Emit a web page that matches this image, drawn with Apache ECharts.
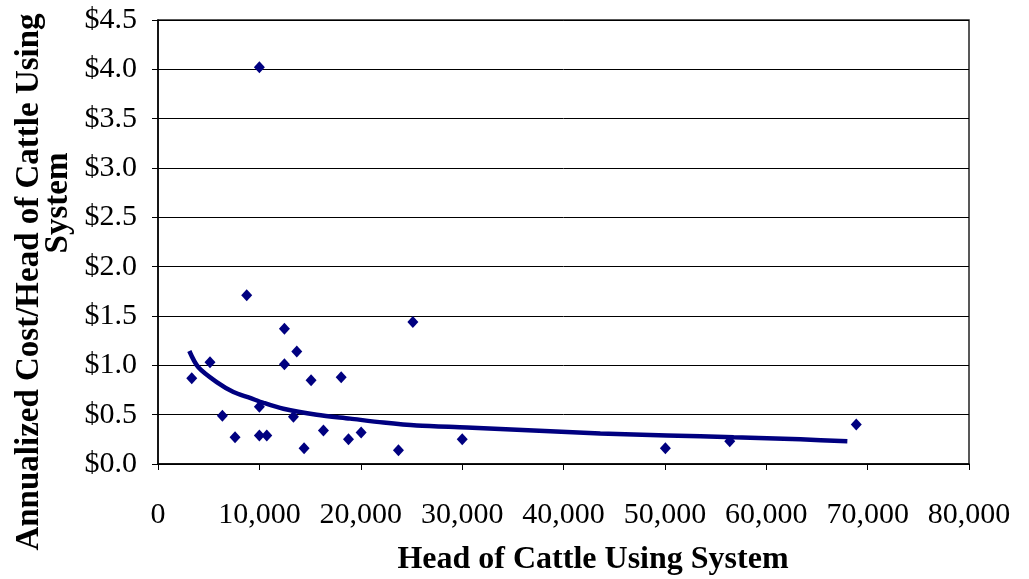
<!DOCTYPE html>
<html>
<head>
<meta charset="utf-8">
<script src="https://cdn.jsdelivr.net/npm/echarts@6/dist/echarts.min.js"></script>
<style>
  html, body { margin: 0; padding: 0; background: #fff; }
  #chart { width: 1029px; height: 579px; }
</style>
</head>
<body>
<div id="chart"></div>
<script>
// scatter points: head of cattle, annualized cost per head
const headCount = [3330, 5130, 6350, 7600, 8750, 10000, 10000, 10730, 12470, 12470, 13690,
  13360, 15100, 14410, 16320, 18070, 18790, 20040, 23720, 25140, 30010, 10000, 50050, 56400, 68880]
const costPerHead = [0.87, 1.03, 0.49, 0.27, 1.71, 0.58, 0.29, 0.29, 1.37, 1.01, 1.14,
  0.48, 0.85, 0.16, 0.34, 0.88, 0.25, 0.32, 0.14, 1.44, 0.25, 4.02, 0.16, 0.23, 0.40]

// trend line points
const trendX = [3090, 3980, 5790, 7440, 9080, 10400, 12370, 15660, 18950, 22240, 25530,
  30470, 37050, 43630, 50210, 56790, 63370, 68000]
const trendY = [1.145, 0.98, 0.83, 0.73, 0.67, 0.62, 0.56, 0.50, 0.46, 0.42, 0.39,
  0.37, 0.34, 0.31, 0.29, 0.27, 0.25, 0.23]

const myChart = echarts.init(document.getElementById('chart'))
const fontFamily = '"Liberation Serif", "Times New Roman", serif'
const navy = '#000080'

const option = {
  animation: false,
  backgroundColor: '#fff',
  grid: {
    left: 158,
    right: 60,
    top: 20,
    bottom: 115,
    show: true,
    borderColor: '#222',
    borderWidth: 1.5
  },
  xAxis: {
    type: 'value',
    min: 0,
    max: 80000,
    interval: 10000,
    axisLine: { show: true, lineStyle: { color: '#000', width: 1.5 } },
    axisTick: { show: true, inside: false, length: 6, lineStyle: { color: '#000' } },
    axisLabel: {
      fontFamily, fontSize: 30, color: '#000', margin: 36,
      formatter: v => v.toLocaleString('en-US')
    },
    splitLine: { show: false }
  },
  yAxis: {
    type: 'value',
    min: 0,
    max: 4.5,
    interval: 0.5,
    axisLine: { show: true, lineStyle: { color: '#000', width: 1.5 } },
    axisTick: { show: true, inside: false, length: 6, lineStyle: { color: '#000' } },
    axisLabel: {
      fontFamily, fontSize: 30, color: '#000', margin: 21,
      formatter: v => '$' + v.toFixed(1)
    },
    splitLine: { show: true, lineStyle: { color: '#000', width: 1 } }
  },
  graphic: [
    {
      type: 'text',
      x: 29,
      y: 282,
      rotation: Math.PI / 2,
      style: {
        text: 'Annualized Cost/Head of Cattle Using',
        fontFamily, fontSize: 33, fontWeight: 'bold', fill: '#000',
        align: 'center', verticalAlign: 'middle'
      }
    },
    {
      type: 'text',
      x: 58,
      y: 203,
      rotation: Math.PI / 2,
      style: {
        text: 'System',
        fontFamily, fontSize: 33, fontWeight: 'bold', fill: '#000',
        align: 'center', verticalAlign: 'middle'
      }
    },
    {
      type: 'text',
      x: 593,
      y: 560,
      style: {
        text: 'Head of Cattle Using System',
        fontFamily, fontSize: 32, fontWeight: 'bold', fill: '#000',
        align: 'center', verticalAlign: 'middle'
      }
    }
  ],
  series: [
    {
      name: 'Trend',
      type: 'line',
      data: trendX.map((x, i) => [x, trendY[i]]),
      smooth: 0.3,
      showSymbol: false,
      lineStyle: { color: navy, width: 4.5 },
      z: 2
    },
    {
      name: 'Cost',
      type: 'scatter',
      data: headCount.map((x, i) => [x, costPerHead[i]]),
      symbol: 'diamond',
      symbolSize: [11, 12],
      itemStyle: { color: navy, opacity: 1 },
      z: 3
    }
  ]
}

option && myChart.setOption(option)
</script>
</body>
</html>
